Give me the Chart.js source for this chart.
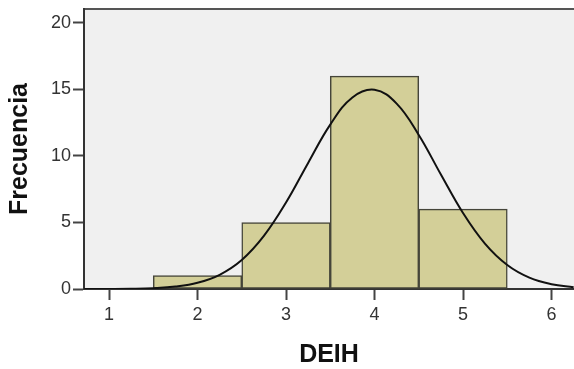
<!DOCTYPE html>
<html>
<head>
<meta charset="utf-8">
<script src="https://cdn.jsdelivr.net/npm/chart.js@4/dist/chart.umd.min.js"></script>
<style>
html,body{margin:0;padding:0;background:#fff;}
#wrap{width:574px;height:369px;}
</style>
</head>
<body>
<div id="wrap"><canvas id="c" width="574" height="369"></canvas></div>
<script>
const binCenters = [2, 3, 4, 5];
const frequencies = [1, 5, 16, 6];
const xTicks = [1, 2, 3, 4, 5, 6];
const yTicks = [0, 5, 10, 15, 20];
const curveX = [0.72, 1, 1.25, 1.5, 1.75, 2, 2.25, 2.5, 2.75, 3, 3.25, 3.5, 3.75, 4, 4.25, 4.5, 4.75, 5, 5.25, 5.5, 5.75, 6, 6.25];
const curveY = [0.001, 0.006, 0.02, 0.064, 0.183, 0.467, 1.07, 2.18, 3.99, 6.5, 9.48, 12.36, 14.4, 14.98, 13.94, 11.58, 8.61, 5.71, 3.39, 1.8, 0.85, 0.36, 0.137];

const plotBg = {
  id: 'plotBg',
  beforeDraw(chart) {
    const {ctx, chartArea: a} = chart;
    ctx.save();
    ctx.fillStyle = '#f0f0f0';
    ctx.fillRect(a.left, a.top, a.right - a.left, a.bottom - a.top);
    ctx.strokeStyle = '#555555';
    ctx.lineWidth = 2;
    ctx.beginPath();
    ctx.moveTo(a.left, a.top);
    ctx.lineTo(a.right, a.top);
    ctx.stroke();
    ctx.restore();
  }
};

new Chart(document.getElementById('c'), {
  data: {
    datasets: [
      {
        type: 'line',
        data: curveX.map((x, i) => ({x: x, y: curveY[i]})),
        borderColor: '#111111',
        borderWidth: 2,
        pointRadius: 0,
        tension: 0.4,
        fill: false,
        order: 0
      },
      {
        type: 'bar',
        data: binCenters.map((x, i) => ({x: x, y: frequencies[i]})),
        backgroundColor: '#d3cf98',
        borderColor: '#45453a',
        borderWidth: 1.5,
        borderSkipped: false,
        categoryPercentage: 1.0,
        barPercentage: 1.0,
        grouped: false,
        order: 1
      }
    ]
  },
  options: {
    responsive: false,
    animation: false,
    devicePixelRatio: 1,
    layout: {padding: {top: 9, right: 0, left: 0, bottom: 0}},
    plugins: {legend: {display: false}, tooltip: {enabled: false}},
    scales: {
      x: {
        type: 'linear',
        min: 0.7175,
        max: 6.254,
        offset: false,
        z: 1,
        afterBuildTicks(s) { s.ticks = xTicks.map(v => ({value: v})); },
        afterFit(s) { s.height = 80; s.paddingLeft = 0; s.paddingRight = 0; },
        ticks: {
          color: '#333333',
          font: {family: 'Liberation Sans', size: 18},
          padding: 4,
          maxRotation: 0
        },
        grid: {drawOnChartArea: false, offset: false, tickLength: 11, tickWidth: 2, tickColor: '#444444'},
        border: {color: '#333333', width: 2},
        title: {
          display: true,
          text: 'DEIH',
          color: '#111111',
          font: {family: 'Liberation Sans', size: 25, weight: 'bold', lineHeight: 1.15},
          padding: {top: 0, bottom: 0}
        }
      },
      y: {
        type: 'linear',
        min: 0,
        max: 21.05,
        z: 1,
        afterBuildTicks(s) { s.ticks = yTicks.map(v => ({value: v})); },
        afterFit(s) { s.width = 84; s.paddingTop = 0; s.paddingBottom = 0; },
        ticks: {
          color: '#333333',
          font: {family: 'Liberation Sans', size: 18},
          padding: 2
        },
        grid: {drawOnChartArea: false, tickLength: 11, tickWidth: 2, tickColor: '#444444'},
        border: {color: '#333333', width: 2},
        title: {
          display: true,
          text: 'Frecuencia',
          color: '#111111',
          font: {family: 'Liberation Sans', size: 25, weight: 'bold', lineHeight: 1.2},
          padding: {top: 5, bottom: 0}
        }
      }
    }
  },
  plugins: [plotBg]
});
</script>
</body>
</html>
